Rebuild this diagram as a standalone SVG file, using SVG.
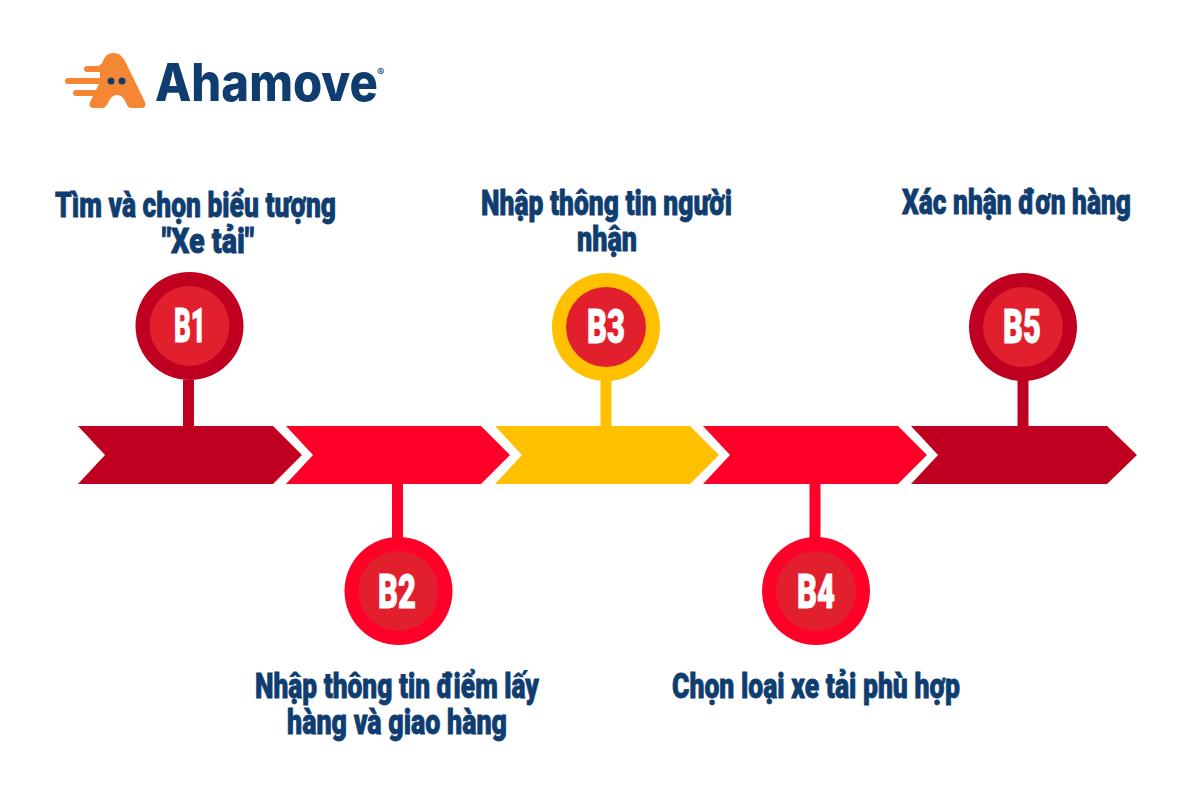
<svg xmlns="http://www.w3.org/2000/svg" width="1200" height="800" viewBox="0 0 1200 800">
<defs><style>
.t{font-family:"Roboto","Liberation Sans",sans-serif;font-weight:900;font-size:35px;fill:#0f3d70;stroke:#0f3d70;stroke-width:.8;}
.b{font-family:"Roboto","Liberation Sans",sans-serif;font-weight:900;font-size:48px;fill:#fff;stroke:#fff;stroke-width:.8;text-anchor:middle;}
.inner{fill:#e21f2d;}
.dark{fill:#bf0020;}.red{fill:#ff0028;}.yel{fill:#ffc000;}
.sd{stroke:#bf0020;}.sr{stroke:#ff0028;}.sy{stroke:#ffc000;}
.stem{stroke-width:11;fill:none;}
</style></defs>
<rect width="1200" height="800" fill="#fff"/>
<g id="logo">
<path fill="#f58634" d="M113 53C120 53 123 57 126 63L145 102Q147 108 141 108L131 108Q128 108 126 103C124 98 121 95 117 95C113 95 110 98 108 103Q106 108 102 108L94 108Q88 108 90 102L93 96L76 96A3 3 0 0 1 76 90L96 90L99 84L68 84A3 3 0 0 1 68 78L100 78L100 72L87 72A3 3 0 0 1 87 66L97 66Q101 66 103 61C105 56 108 53 113 53Z"/>
<circle cx="111" cy="81" r="3.500" fill="#0f3d70"/><circle cx="122" cy="81" r="3.500" fill="#0f3d70"/>
<text x="155" y="101" font-family="Inter,'Liberation Sans',sans-serif" font-weight="800" font-size="52" fill="#0f3d70" textLength="223" lengthAdjust="spacingAndGlyphs">Ahamove</text>
<text x="377" y="76" font-family="Inter,'Liberation Sans',sans-serif" font-weight="500" font-size="11" fill="#0f3d70">®</text>
</g>
<g id="connectors">
<path class="stem sd" d="M188.500 380V426"/>
<path class="stem sr" d="M397.500 484V540"/>
<path class="stem sy" d="M606 380V426"/>
<path class="stem sr" d="M815 484V540"/>
<path class="stem sd" d="M1023 380V426"/>
</g>
<g id="bar1"><path class="dark" d="M78 426H273L302 455L273 484H78L105 455Z"/></g>
<g id="bar2"><path class="red" d="M286 426H481L510 455L481 484H286L313 455Z"/></g>
<g id="bar3"><path class="yel" d="M495 426H690L719 455L690 484H495L522 455Z"/></g>
<g id="bar4"><path class="red" d="M703 426H898L927 455L898 484H703L730 455Z"/></g>
<g id="bar5"><path class="dark" d="M911 426H1107L1137 455L1107 484H911L938 455Z"/></g>
<g id="B1"><circle class="dark" cx="189.500" cy="326" r="54"/><circle class="inner" cx="189.500" cy="326" r="40"/><text class="b" x="190" y="342" textLength="32" lengthAdjust="spacingAndGlyphs">B1</text>
<text class="t" x="55" y="217" textLength="281" lengthAdjust="spacingAndGlyphs">Tìm và chọn biểu tượng</text><text class="t" x="162" y="253" textLength="92" lengthAdjust="spacingAndGlyphs">"Xe tải"</text></g>
<g id="B2"><circle class="red" cx="398.500" cy="591" r="54"/><circle class="inner" cx="398.500" cy="591" r="40"/><text class="b" x="397" y="608" textLength="38" lengthAdjust="spacingAndGlyphs">B2</text>
<text class="t" x="255" y="698" textLength="284" lengthAdjust="spacingAndGlyphs">Nhập thông tin điểm lấy</text><text class="t" x="287" y="734" textLength="220" lengthAdjust="spacingAndGlyphs">hàng và giao hàng</text></g>
<g id="B3"><circle class="yel" cx="606" cy="327" r="54"/><circle class="inner" cx="606" cy="327" r="40"/><text class="b" x="606" y="343" textLength="38" lengthAdjust="spacingAndGlyphs">B3</text>
<text class="t" x="481" y="215" textLength="251" lengthAdjust="spacingAndGlyphs">Nhập thông tin người</text><text class="t" x="577" y="251" textLength="60" lengthAdjust="spacingAndGlyphs">nhận</text></g>
<g id="B4"><circle class="red" cx="816" cy="591" r="54"/><circle class="inner" cx="816" cy="591" r="40"/><text class="b" x="816" y="608" textLength="38" lengthAdjust="spacingAndGlyphs">B4</text>
<text class="t" x="672" y="698" textLength="288" lengthAdjust="spacingAndGlyphs">Chọn loại xe tải phù hợp</text></g>
<g id="B5"><circle class="dark" cx="1023" cy="327" r="54"/><circle class="inner" cx="1023" cy="327" r="40"/><text class="b" x="1022" y="343" textLength="38" lengthAdjust="spacingAndGlyphs">B5</text>
<text class="t" x="902" y="214" textLength="229" lengthAdjust="spacingAndGlyphs">Xác nhận đơn hàng</text></g>
</svg>
